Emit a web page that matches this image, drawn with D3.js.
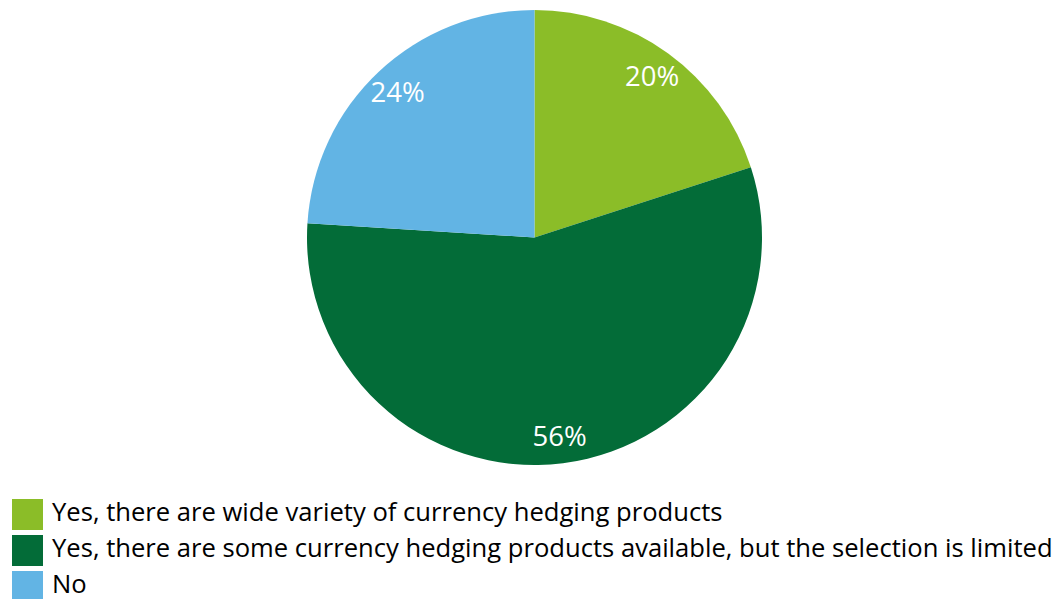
<!DOCTYPE html>
<html>
<head>
<meta charset="utf-8">
<script src="https://cdn.jsdelivr.net/npm/d3@7"></script>
<style>
  html, body { margin: 0; padding: 0; background: #fff; }
  svg { display: block; }
  text { font-family: "Open Sans", "Noto Sans", sans-serif; }
</style>
</head>
<body>
<svg id="chart" width="1059" height="599"></svg>
<script>
// Survey answers: availability of currency hedging products
const categories = [
  "Yes, there are wide variety of currency hedging products",
  "Yes, there are some currency hedging products available, but the selection is limited",
  "No"
];
const shares = [20, 56, 24];
const colors = ["#8BBD28", "#036C38", "#62B4E4"];

const svg = d3.select("#chart");
const cx = 534.5, cy = 237.5, radius = 227.5, labelRadius = 200;

const data = categories.map((c, i) => ({ name: c, value: shares[i], color: colors[i] }));

const pie = d3.pie().value(d => d.value).sort(null);
const arc = d3.arc().innerRadius(0).outerRadius(radius);
const labelArc = d3.arc().innerRadius(labelRadius).outerRadius(labelRadius);

const g = svg.append("g").attr("transform", `translate(${cx},${cy})`);
const arcs = pie(data);

g.selectAll("path.slice")
  .data(arcs)
  .join("path")
  .attr("class", "slice")
  .attr("d", arc)
  .attr("fill", d => d.data.color);

g.selectAll("text.pct")
  .data(arcs)
  .join("text")
  .attr("class", "pct")
  .attr("transform", d => `translate(${labelArc.centroid(d)})`)
  .attr("text-anchor", "middle")
  .attr("dy", "0.36em")
  .attr("fill", "#fff")
  .attr("font-size", 27.5)
  .text(d => d.data.value + "%");

// Legend below the pie
const legend = svg.append("g").attr("transform", "translate(12,499)");
const rows = legend.selectAll("g.row")
  .data(data)
  .join("g")
  .attr("class", "row")
  .attr("transform", (d, i) => `translate(0,${i * 36})`);

rows.append("rect")
  .attr("width", 31)
  .attr("height", 31)
  .attr("fill", d => d.color);

rows.append("text")
  .attr("x", 40)
  .attr("y", 21.5)
  .attr("font-size", 25.6)
  .attr("fill", "#000")
  .text(d => d.name);
</script>
</body>
</html>
